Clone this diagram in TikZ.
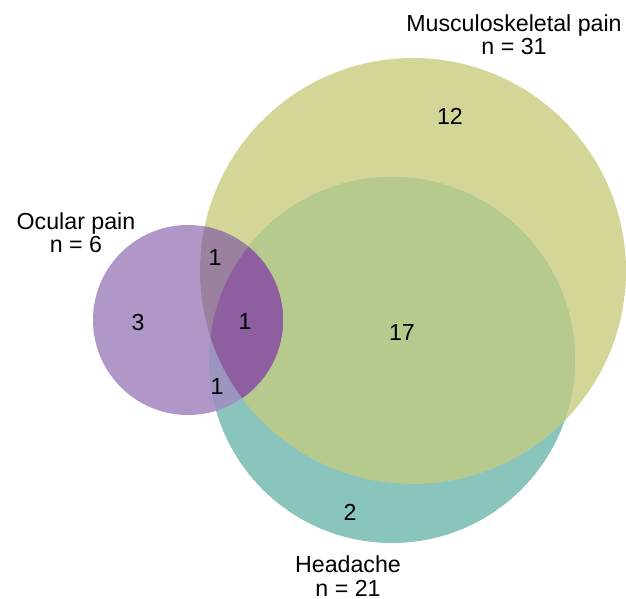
\documentclass[tikz,border=0pt]{standalone}
\usepackage{fontspec}
\setmainfont{Liberation Sans}
\definecolor{mskfill}{RGB}{212,214,152}
\definecolor{headfill}{RGB}{137,196,189}
\definecolor{ocufill}{RGB}{177,151,199}
\definecolor{mskhead}{RGB}{183,202,142}
\definecolor{ocumsk}{RGB}{154,130,158}
\definecolor{ocuhead}{RGB}{156,149,192}
\definecolor{ocuall}{RGB}{142,95,160}

\begin{document}
\begin{tikzpicture}[x=0.025cm, y=-0.025cm, every node/.style={font=\fontsize{16.5}{16.5}\selectfont, inner sep=0pt}, lbl/.style={align=center}]
  \useasboundingbox (0,0) rectangle (626,599);
  \def\mskcirc{(413,271) circle (213)}
  \def\headcirc{(392,360) circle (183)}
  \def\ocucirc{(188,320) circle (95)}
  % base circles
  \fill[mskfill] \mskcirc;
  \fill[headfill] \headcirc;
  \fill[ocufill] \ocucirc;
  % overlaps
  \begin{scope}
    \clip \mskcirc;
    \fill[mskhead] \headcirc;
    \clip \ocucirc;
    \fill[ocumsk] \ocucirc;
    \fill[ocuall] \headcirc;
  \end{scope}
  \begin{scope}
    \clip \ocucirc;
    \clip \headcirc;
    \fill[ocuhead] \headcirc;
    \clip \mskcirc;
    \fill[ocuall] \mskcirc;
  \end{scope}
  % set labels
  \node[lbl] (mskname) at (514,35) {Musculoskeletal pain\\n = 31};
  \node[lbl] (ocuname) at (76,233) {Ocular pain\\n = 6};
  \node[lbl] (headname) at (348,576) {Headache\\n = 21};
  % counts
  \node (nmsk) at (450,116) {12};
  \node (nocu) at (138,323) {3};
  \node (nmh) at (402,333) {17};
  \node (nhead) at (350,512) {2};
  \node (nom) at (215,258) {1};
  \node (nall) at (245,322) {1};
  \node (noh) at (217,387) {1};
\end{tikzpicture}
\end{document}
